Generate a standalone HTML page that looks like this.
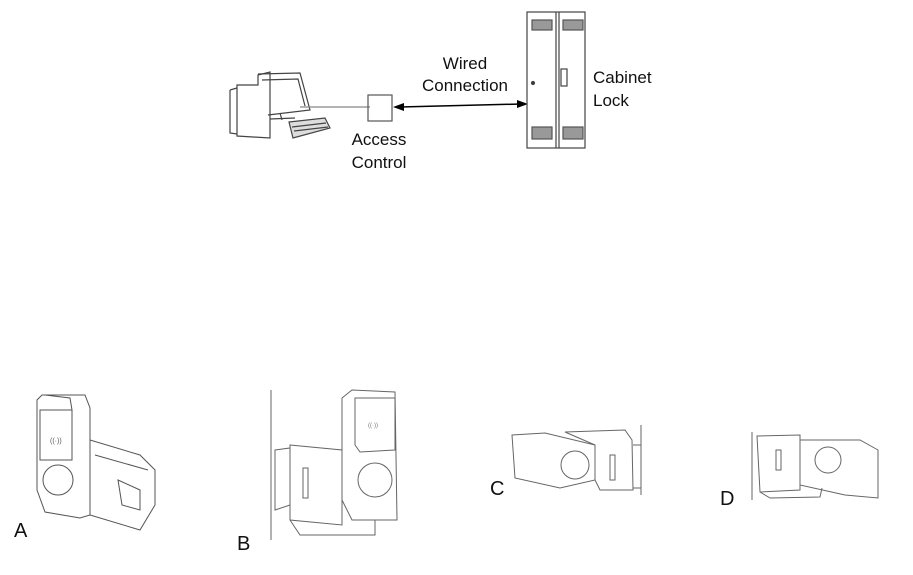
<!DOCTYPE html>
<html><head><meta charset="utf-8"><style>
html,body{margin:0;padding:0;background:#fff;}
svg{display:block;}
text{font-family:"Liberation Sans",sans-serif;fill:#111;}
</style></head><body>
<svg width="913" height="575" viewBox="0 0 913 575" xmlns="http://www.w3.org/2000/svg">
<g fill="none" stroke="#444" stroke-width="1.2">
<!-- computer -->
<path d="M237 85 L258 85 L258 75 L270 72 L270 138 L237 136 Z" fill="#fff"/>
<path d="M230 90 L237 88 M230 90 L230 133 L237 134"/>
<path d="M258 74 L300 73 L310 110 L268 115" />
<path d="M262 80 L298 79 L305 106"/>
<line x1="280" y1="113" x2="282" y2="120"/>
<path d="M270 119 L295 118"/>
<path d="M289 122 L325 118 L330 128 L293 138 Z" fill="#ddd"/>
<path d="M292 127 L326 123 M294 131 L328 127"/>
<line x1="300" y1="107" x2="370" y2="107" stroke="#888"/>
<!-- access control box -->
<rect x="368" y="95" width="24" height="26" stroke="#555"/>
<!-- arrow -->
<line x1="400" y1="107" x2="521" y2="104" stroke="#000" stroke-width="1.5"/>
<path d="M393 107 L404 103 L404 111 Z" fill="#000" stroke="none"/>
<path d="M528 104 L517 100 L517 108 Z" fill="#000" stroke="none"/>
<!-- cabinet -->
<rect x="527" y="12" width="58" height="136"/>
<line x1="556" y1="12" x2="556" y2="148"/>
<line x1="559" y1="12" x2="559" y2="148"/>
<g fill="#999" stroke="#555">
<rect x="532" y="20" width="20" height="10"/><rect x="563" y="20" width="20" height="10"/>
<rect x="532" y="127" width="20" height="12"/><rect x="563" y="127" width="20" height="12"/>
</g>
<rect x="561" y="69" width="6" height="17"/>
<circle cx="533" cy="83" r="1.5" fill="#333"/>
</g>
<text x="465" y="69" font-size="17" text-anchor="middle">Wired</text>
<text x="465" y="91" font-size="17" text-anchor="middle">Connection</text>
<text x="593" y="83" font-size="17">Cabinet</text>
<text x="593" y="106" font-size="17">Lock</text>
<text x="379" y="145" font-size="17" text-anchor="middle">Access</text>
<text x="379" y="168" font-size="17" text-anchor="middle">Control</text>

<!-- A -->
<g fill="none" stroke="#555" stroke-width="1">
<path d="M90 440 L140 455 L155 470 L155 505 L140 530 L90 515 Z" fill="#fff"/>
<path d="M95 455 L148 470 M118 480 L122 505 L140 510 L140 490 Z"/>
<path d="M42 395 L85 395 L90 408 L90 515 L80 518 L45 512 L37 490 L37 400 Z" fill="#fff"/>
<path d="M40 410 L72 410 L72 460 L40 460 Z"/>
<circle cx="58" cy="480" r="15"/>
<path d="M45 395 L70 398 L72 410"/>
<text x="50" y="443" font-size="7" stroke="none" style="fill:#555">((·))</text>
</g>
<text x="14" y="537" font-size="20">A</text>

<!-- B -->
<g fill="none" stroke="#666" stroke-width="1">
<line x1="271" y1="390" x2="271" y2="540"/>
<path d="M290 445 L342 450 L342 525 L290 520 Z"/>
<path d="M275 450 L290 448 L290 505 L275 510 Z"/>
<path d="M290 520 L300 535 L375 535 L375 520"/>
<path d="M342 398 L352 390 L395 392 L397 520 L352 520 L342 500 Z" fill="#fff"/>
<path d="M355 398 L395 398 L395 450 L360 452 L355 445 Z"/>
<circle cx="375" cy="480" r="17"/>
<rect x="303" y="468" width="5" height="30"/>
<text x="368" y="427" font-size="6" stroke="none" style="fill:#777">((·))</text>
</g>
<text x="237" y="550" font-size="20">B</text>

<!-- C -->
<g fill="none" stroke="#666" stroke-width="1">
<line x1="641" y1="425" x2="641" y2="495"/>
<path d="M565 432 L625 430 L632 440 L633 490 L600 490 L595 480 L595 445 Z"/>
<path d="M633 445 L641 445 L641 488 L633 488"/>
<path d="M512 435 L545 433 L595 445 L595 480 L560 488 L515 478 Z" fill="#fff"/>
<circle cx="575" cy="465" r="14"/>
<rect x="610" y="455" width="5" height="25"/>
</g>
<text x="490" y="495" font-size="20">C</text>

<!-- D -->
<g fill="none" stroke="#666" stroke-width="1">
<line x1="752" y1="432" x2="752" y2="500"/>
<path d="M757 436 L800 435 L800 490 L760 492 Z"/>
<path d="M800 440 L860 440 L878 450 L878 498 L845 495 L800 485 Z" fill="#fff"/>
<circle cx="828" cy="460" r="13"/>
<rect x="776" y="450" width="5" height="20"/>
<path d="M760 492 L770 498 L820 497 L822 488"/>
</g>
<text x="720" y="505" font-size="20">D</text>
</svg>
</body></html>
